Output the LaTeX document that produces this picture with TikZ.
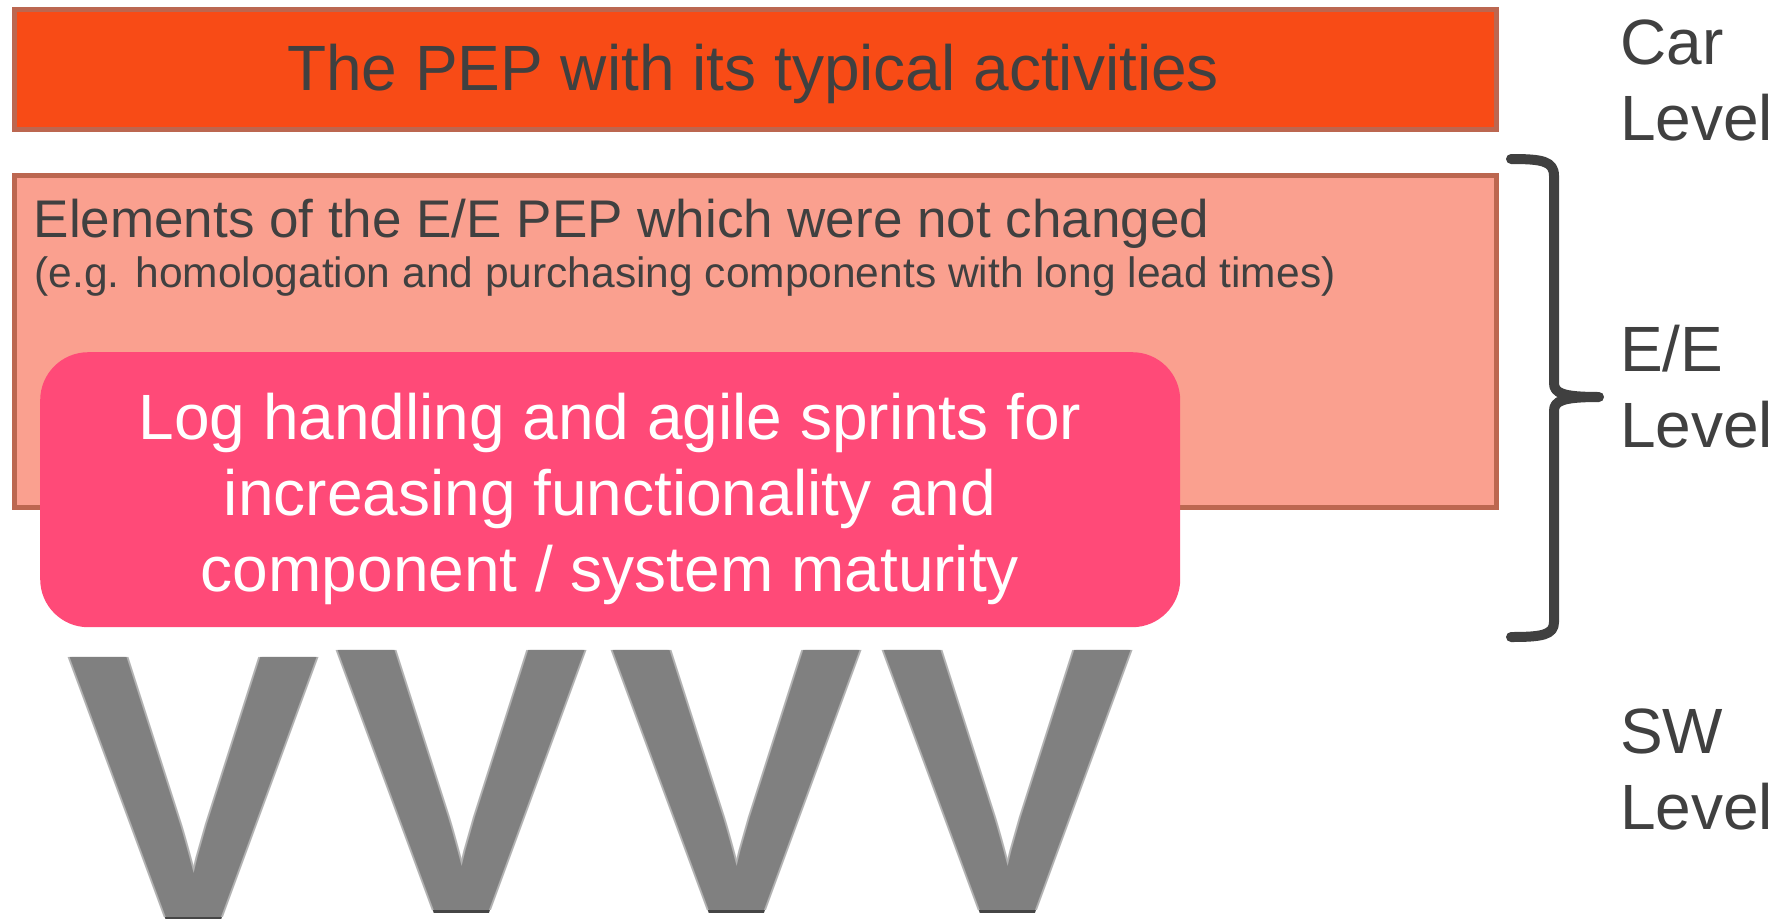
\documentclass[tikz,border=0pt]{standalone}
\usepackage{fontspec}
\setmainfont{Liberation Sans}
\definecolor{pepred}{RGB}{248,75,22}
\definecolor{boxedge}{RGB}{188,103,80}
\definecolor{salmon}{RGB}{250,160,143}
\definecolor{sprintpink}{RGB}{255,74,120}
\definecolor{textgray}{RGB}{64,64,64}
\definecolor{vgray}{RGB}{128,128,128}
\definecolor{vlight}{RGB}{178,178,178}
\definecolor{vdark}{RGB}{70,70,70}
\begin{document}
\begin{tikzpicture}[x=1pt,y=-1pt,
  bar/.style={draw=boxedge, line width=5pt, rectangle, anchor=north west, inner sep=0pt},
  big/.style={font=\fontsize{64}{76}\selectfont, inner sep=0pt},
  level/.style={big, text=textgray, align=left, anchor=north west},
  vglyph/.style={font=\fontsize{378}{378}\selectfont\bfseries, anchor=base, inner sep=0pt, text=vgray},
  vedge/.style={vglyph, text=vlight},
  vbottom/.style={vglyph, text=vdark}]
\useasboundingbox (0,0) rectangle (1779,918);
\fill[white] (0,0) rectangle (1779,918);

% car level: the PEP bar
\node[bar, fill=pepred, minimum width=1482.5pt, minimum height=120pt] (car) at (11.8,6.5) {};
\node[big, text=textgray, anchor=base] (cartext) at (753,90) {The PEP with its typical activities};

% E/E level: unchanged elements
\node[bar, fill=salmon, minimum width=1482.5pt, minimum height=332pt] (ee) at (11.8,172.5) {};
\node[anchor=base west, inner sep=0pt, text=textgray, font=\fontsize{53}{60}\selectfont] (eetitle) at (33.5,237) {Elements of the E/E PEP which were not changed};
\node[anchor=base west, inner sep=0pt, text=textgray, font=\fontsize{42.5}{50}\selectfont] (eenote) at (34.5,287) {(e.g. homologation and purchasing components with long lead times)};

% agile sprints
\node[fill=sprintpink, rounded corners=48pt, minimum width=1140pt, minimum height=275pt, anchor=north west, inner sep=0pt] (sprint) at (40,352) {};
\node[big, text=white, align=center] (sprinttext) at (610,499) {Log handling and agile sprints for\\increasing functionality and\\component / system maturity};

% SW level: V-models
\foreach \name/\x/\y in {v1/194/917, v2/462/910, v3/736.5/910, v4/1007.5/910}{
  \node[vbottom] at (\x,\y+3) {V};
  \node[vedge] at (\x-2,\y) {V};
  \node[vedge] at (\x+2,\y) {V};
  \node[vglyph] (\name) at (\x,\y) {V};
}

% brace spanning the E/E level
\draw[textgray, line width=10pt, line cap=round, line join=round]
  (1511,159) .. controls (1542,159) and (1554,161) .. (1554,176)
  -- (1554,383) .. controls (1554,393) and (1562,397) .. (1599,397)
  .. controls (1562,397) and (1554,401) .. (1554,411)
  -- (1554,622) .. controls (1554,635) and (1542,637) .. (1511,637);

% level labels
\node[level] (carlbl) at (1620,19.5) {Car\\Level};
\node[level] (eelbl) at (1620,325) {E/E\\Level};
\node[level] (swlbl) at (1620,708.5) {SW\\Level};
\end{tikzpicture}
\end{document}
